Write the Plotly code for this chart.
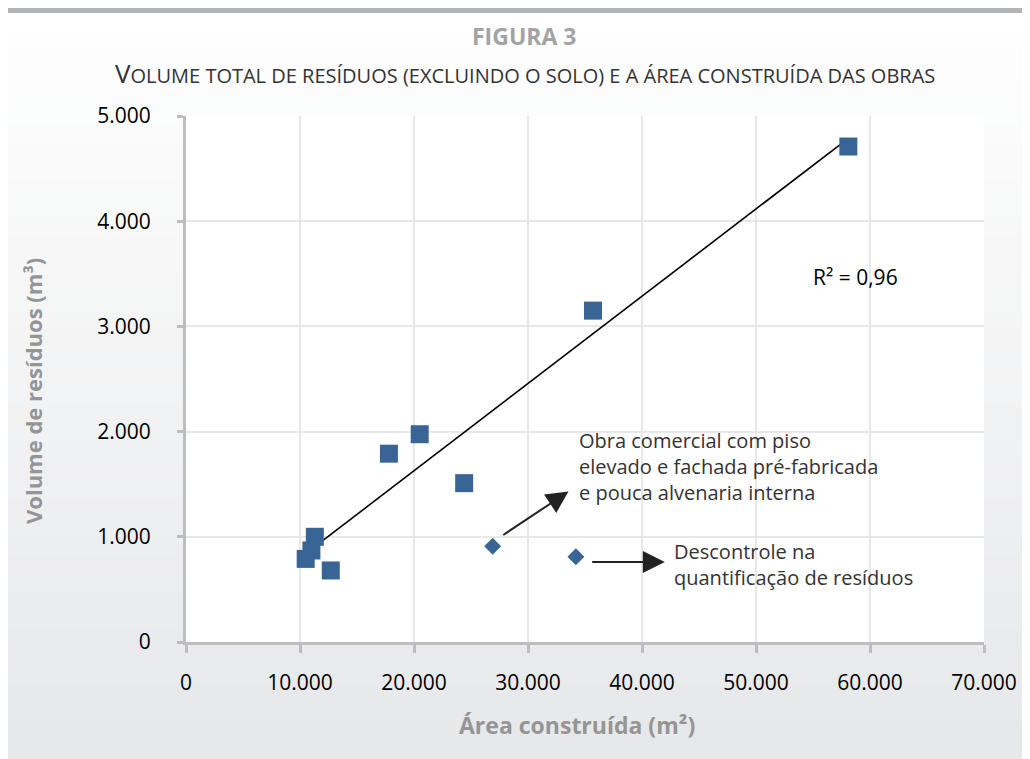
import numpy as np
import plotly.graph_objects as go

# ---- data ----
area_main = [58100, 35700, 20500, 17800, 24400, 11300, 11000, 10500, 12700]
vol_main = [4710, 3150, 1975, 1790, 1510, 1000, 870, 790, 680]
area_out = [26900, 34200]
vol_out = [910, 810]
x_ticks = [0, 10000, 20000, 30000, 40000, 50000, 60000, 70000]
x_tick_labels = ["0", "10.000", "20.000", "30.000", "40.000", "50.000", "60.000", "70.000"]
y_ticks = [0, 1000, 2000, 3000, 4000, 5000]
y_tick_labels = ["0", "1.000", "2.000", "3.000", "4.000", "5.000"]
r2_label = "R² = 0,96"
note1 = "Obra comercial com piso<br>elevado e fachada pré-fabricada<br>e pouca alvenaria interna"
note2 = "Descontrole na<br>quantificação de resíduos"

BLUE = "#386595"
FONT = "Open Sans"

# page offset (body margin) compensation
OFF = 8
W, H = 1030 - OFF, 759 - OFF
PL, PR, PT, PB = 186 - OFF, 984 - OFF, 116 - OFF, 642 - OFF  # plot box in figure px


def px(xp):
    return (xp - OFF - PL) / (PR - PL)


def py(yp):
    return (PB - (yp - OFF)) / (PB - PT)


# linear trend line for the main series
coef = np.polyfit(area_main, vol_main, 1)
tx = np.array([min(area_main), max(area_main)])
ty = np.polyval(coef, tx)

fig = go.Figure()
fig.add_trace(go.Scatter(x=tx, y=ty, mode="lines",
                         line=dict(color="black", width=1.6),
                         hoverinfo="skip", showlegend=False))
fig.add_trace(go.Scatter(x=area_main, y=vol_main, mode="markers",
                         marker=dict(symbol="square", size=18, color=BLUE),
                         showlegend=False))
fig.add_trace(go.Scatter(x=area_out, y=vol_out, mode="markers",
                         marker=dict(symbol="diamond", size=13, color=BLUE),
                         showlegend=False))

shapes = []
# gradient panel background
n = 40
top_px, bot_px = 13, 760
c0 = np.array([255, 255, 255])
c1 = np.array([231, 232, 234])
for i in range(n):
    y0p = top_px + (bot_px - top_px) * i / n
    y1p = top_px + (bot_px - top_px) * (i + 1) / n + 1
    f = i / (n - 1)
    c = (c0 + (c1 - c0) * f).astype(int)
    shapes.append(dict(type="rect", xref="paper", yref="paper", layer="below",
                       x0=px(6), x1=px(1040), y0=py(y1p), y1=py(y0p),
                       line_width=0, fillcolor="rgb(%d,%d,%d)" % tuple(c)))
# top dark band
shapes.append(dict(type="rect", xref="paper", yref="paper", layer="below",
                   x0=px(6), x1=px(1040), y0=py(13), y1=py(5),
                   line_width=0, fillcolor="#b3b4b6"))
# white plot area
shapes.append(dict(type="rect", xref="x", yref="y", layer="below",
                   x0=0, x1=70000, y0=0, y1=5000, line_width=0, fillcolor="white"))

annotations = [
    dict(text="<b>FIGURA 3</b>", xref="paper", yref="paper",
         x=px(524), y=py(36), xanchor="center", yanchor="middle", showarrow=False,
         font=dict(family=FONT, size=23, color="#a3a3a3")),
    dict(text=("V<span style='font-size:20px'>OLUME TOTAL DE RESÍDUOS (EXCLUINDO O SOLO) "
               "E A ÁREA CONSTRUÍDA DAS OBRAS</span>"),
         xref="paper", yref="paper", x=px(525), y=py(73),
         xanchor="center", yanchor="middle",
         showarrow=False, font=dict(family=FONT, size=26, color="#333333")),
    dict(text="<b>Área construída (m²)</b>", xref="paper", yref="paper",
         x=px(577), y=py(725), xanchor="center", yanchor="middle", showarrow=False,
         font=dict(family=FONT, size=23, color="#959595")),
    dict(text="<b>Volume de resíduos (m³)</b>", xref="paper", yref="paper",
         x=px(33), y=py(391), xanchor="center", yanchor="middle", showarrow=False,
         textangle=-90, font=dict(family=FONT, size=22, color="#959595")),
    dict(text=r2_label, x=58700, y=3470, xref="x", yref="y", showarrow=False,
         font=dict(family=FONT, size=21, color="black")),
    dict(text=note1, x=34300, y=1673, xref="x", yref="y",
         xanchor="left", yanchor="middle", align="left", showarrow=False,
         font=dict(family=FONT, size=20, color="#333333")),
    dict(text=note2, x=42630, y=737, xref="x", yref="y",
         xanchor="left", yanchor="middle", align="left", showarrow=False,
         font=dict(family=FONT, size=20, color="#333333")),
    dict(text="", x=33550, y=1430, ax=27700, ay=1008, xref="x", yref="y",
         axref="x", ayref="y", showarrow=True, arrowhead=2, arrowsize=2.2,
         arrowwidth=2, arrowcolor="#222222"),
    dict(text="", x=42000, y=760, ax=35500, ay=760, xref="x", yref="y",
         axref="x", ayref="y", showarrow=True, arrowhead=2, arrowsize=2.2,
         arrowwidth=2, arrowcolor="#222222"),
]

fig.update_layout(
    width=W, height=H,
    margin=dict(l=PL, r=W - PR, t=PT, b=H - PB),
    paper_bgcolor="white", plot_bgcolor="rgba(0,0,0,0)",
    shapes=shapes, annotations=annotations,
    font=dict(family=FONT, color="black"),
)
fig.update_xaxes(range=[0, 70000], tickvals=x_ticks, ticktext=x_tick_labels,
                 showgrid=True, gridcolor="#e8e8e8", gridwidth=2,
                 showline=True, linecolor="#bdbdbd", linewidth=3,
                 ticks="outside", ticklen=8, tickwidth=3, tickcolor="#bdbdbd",
                 ticklabelstandoff=12, zeroline=False,
                 tickfont=dict(family=FONT, size=21, color="black"))
fig.update_yaxes(range=[0, 5000], tickvals=y_ticks, ticktext=y_tick_labels,
                 showgrid=True, gridcolor="#e8e8e8", gridwidth=2,
                 showline=True, linecolor="#bdbdbd", linewidth=3,
                 ticks="outside", ticklen=6, tickwidth=3, tickcolor="#bdbdbd",
                 ticklabelstandoff=22, zeroline=False,
                 tickfont=dict(family=FONT, size=21, color="black"))

fig.write_html("out.html")
